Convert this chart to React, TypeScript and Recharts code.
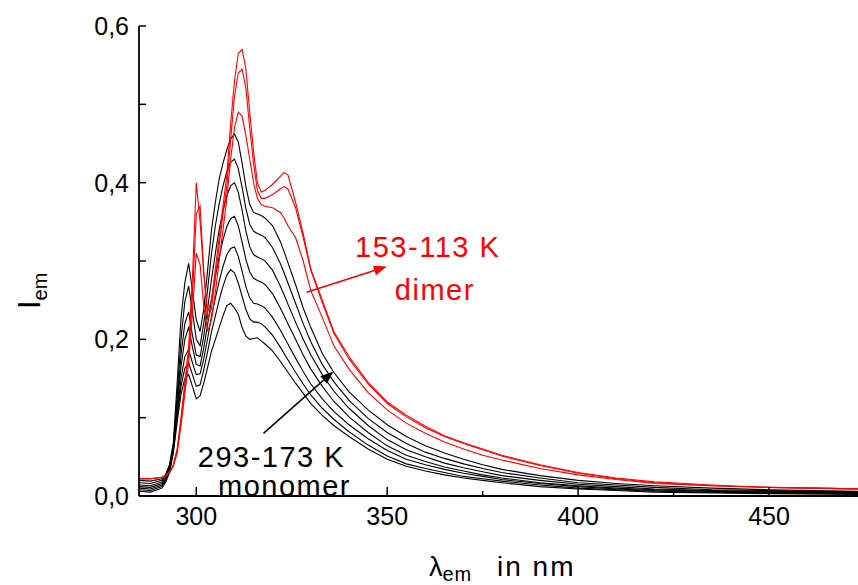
import { LineChart, Line, XAxis, YAxis, ReferenceLine, ReferenceDot } from 'recharts';

// emission wavelength grid (nm)
const WL = [
  285, 288, 291, 292, 293, 294, 295, 296, 297, 298,
  299, 300, 301, 302, 303, 304, 305, 306, 307, 308,
  309, 310, 311, 312, 313, 314, 315, 316, 317, 318,
  320, 322, 323, 324, 326, 328, 330, 333, 336, 340,
  345, 350, 355, 360, 365, 370, 375, 380, 390, 400, 410, 420, 435, 450, 475,
];

// monomer, 293 K .. 173 K (black)
const B293 = [
  0.006, 0.005, 0.010, 0.018, 0.030, 0.055, 0.095, 0.130, 0.150, 0.155,
  0.140, 0.124, 0.128, 0.145, 0.165, 0.185, 0.200, 0.215, 0.230, 0.243,
  0.246, 0.240, 0.232, 0.215, 0.204, 0.200, 0.201, 0.202, 0.198, 0.194,
  0.185, 0.172, 0.165, 0.158, 0.144, 0.131, 0.118, 0.103, 0.090, 0.076,
  0.060, 0.047, 0.038, 0.032, 0.027, 0.023, 0.020, 0.017, 0.012, 0.009, 0.007, 0.005, 0.004, 0.003, 0.002,
];
const B273 = [
  0.008, 0.007, 0.012, 0.020, 0.032, 0.058, 0.100, 0.140, 0.163, 0.170,
  0.155, 0.140, 0.142, 0.162, 0.185, 0.210, 0.230, 0.250, 0.268, 0.282,
  0.289, 0.285, 0.272, 0.255, 0.238, 0.226, 0.222, 0.222, 0.220, 0.216,
  0.205, 0.190, 0.182, 0.174, 0.158, 0.143, 0.129, 0.112, 0.098, 0.082,
  0.065, 0.051, 0.041, 0.035, 0.030, 0.025, 0.022, 0.019, 0.014, 0.010, 0.008, 0.006, 0.005, 0.004, 0.003,
];
const B253 = [
  0.010, 0.009, 0.014, 0.021, 0.033, 0.060, 0.105, 0.150, 0.178, 0.187,
  0.170, 0.155, 0.156, 0.176, 0.202, 0.230, 0.253, 0.274, 0.293, 0.308,
  0.316, 0.318, 0.306, 0.287, 0.267, 0.253, 0.246, 0.245, 0.243, 0.240,
  0.228, 0.212, 0.203, 0.194, 0.176, 0.159, 0.143, 0.124, 0.108, 0.091,
  0.073, 0.058, 0.047, 0.040, 0.034, 0.029, 0.025, 0.021, 0.016, 0.012, 0.009, 0.007, 0.006, 0.005, 0.004,
];
const B233 = [
  0.012, 0.011, 0.016, 0.022, 0.034, 0.062, 0.112, 0.165, 0.200, 0.215,
  0.190, 0.168, 0.166, 0.190, 0.220, 0.252, 0.280, 0.305, 0.327, 0.344,
  0.354, 0.357, 0.345, 0.324, 0.302, 0.286, 0.278, 0.275, 0.273, 0.270,
  0.258, 0.240, 0.230, 0.220, 0.200, 0.180, 0.162, 0.140, 0.121, 0.101,
  0.081, 0.064, 0.052, 0.044, 0.037, 0.032, 0.027, 0.023, 0.017, 0.013, 0.010, 0.008, 0.006, 0.005, 0.004,
];
const B213 = [
  0.014, 0.013, 0.018, 0.024, 0.036, 0.064, 0.120, 0.180, 0.220, 0.235,
  0.205, 0.180, 0.178, 0.205, 0.240, 0.277, 0.310, 0.340, 0.364, 0.383,
  0.396, 0.400, 0.388, 0.365, 0.338, 0.318, 0.308, 0.305, 0.303, 0.300,
  0.288, 0.268, 0.257, 0.245, 0.222, 0.200, 0.180, 0.155, 0.134, 0.112,
  0.090, 0.072, 0.059, 0.050, 0.042, 0.036, 0.031, 0.026, 0.020, 0.015, 0.012, 0.009, 0.007, 0.006, 0.005,
];
const B193 = [
  0.017, 0.016, 0.020, 0.026, 0.038, 0.066, 0.130, 0.200, 0.248, 0.268,
  0.235, 0.200, 0.192, 0.222, 0.265, 0.310, 0.345, 0.373, 0.396, 0.414,
  0.426, 0.430, 0.418, 0.394, 0.367, 0.347, 0.338, 0.335, 0.333, 0.330,
  0.317, 0.297, 0.285, 0.272, 0.246, 0.220, 0.197, 0.168, 0.146, 0.122,
  0.099, 0.081, 0.067, 0.056, 0.048, 0.041, 0.035, 0.030, 0.023, 0.017, 0.014, 0.011, 0.008, 0.007, 0.005,
];
const B173 = [
  0.020, 0.019, 0.022, 0.028, 0.040, 0.068, 0.145, 0.227, 0.272, 0.297,
  0.262, 0.225, 0.210, 0.240, 0.290, 0.340, 0.375, 0.405, 0.425, 0.442,
  0.456, 0.462, 0.452, 0.425, 0.395, 0.372, 0.362, 0.360, 0.358, 0.355,
  0.345, 0.325, 0.312, 0.298, 0.270, 0.240, 0.215, 0.182, 0.158, 0.133,
  0.110, 0.091, 0.076, 0.064, 0.055, 0.047, 0.040, 0.034, 0.026, 0.020, 0.016, 0.013, 0.010, 0.008, 0.006,
];

// dimer, 153 K .. 113 K (red)
const R153 = [
  0.022, 0.022, 0.024, 0.026, 0.030, 0.038, 0.055, 0.090, 0.130, 0.170,
  0.235, 0.310, 0.295, 0.240, 0.210, 0.225, 0.260, 0.300, 0.340, 0.380,
  0.430, 0.470, 0.490, 0.485, 0.460, 0.430, 0.400, 0.380, 0.372, 0.370,
  0.368, 0.362, 0.355, 0.345, 0.330, 0.300, 0.262, 0.228, 0.192, 0.162,
  0.132, 0.110, 0.093, 0.080, 0.069, 0.060, 0.052, 0.046, 0.035, 0.027, 0.021, 0.016, 0.013, 0.011, 0.009,
];
const R133 = [
  0.022, 0.022, 0.024, 0.026, 0.030, 0.040, 0.058, 0.095, 0.138, 0.180,
  0.255, 0.360, 0.370, 0.285, 0.225, 0.240, 0.280, 0.320, 0.360, 0.395,
  0.455, 0.510, 0.540, 0.545, 0.520, 0.470, 0.425, 0.390, 0.380, 0.380,
  0.385, 0.392, 0.395, 0.392, 0.368, 0.330, 0.288, 0.247, 0.208, 0.175,
  0.143, 0.118, 0.101, 0.087, 0.076, 0.067, 0.059, 0.051, 0.039, 0.029, 0.022, 0.017, 0.013, 0.011, 0.009,
];
const R113 = [
  0.022, 0.022, 0.024, 0.026, 0.030, 0.040, 0.060, 0.100, 0.145, 0.190,
  0.280, 0.400, 0.350, 0.280, 0.235, 0.250, 0.290, 0.330, 0.370, 0.410,
  0.475, 0.530, 0.565, 0.570, 0.545, 0.490, 0.440, 0.400, 0.388, 0.390,
  0.398, 0.408, 0.413, 0.410, 0.375, 0.335, 0.290, 0.250, 0.210, 0.178,
  0.145, 0.120, 0.103, 0.089, 0.077, 0.068, 0.060, 0.052, 0.040, 0.030, 0.023, 0.018, 0.014, 0.011, 0.009,
];

const X_TICKS = [300, 325, 350, 375, 400, 425, 450];
const Y_TICKS = [0, 0.1, 0.2, 0.3, 0.4, 0.5, 0.6];

const BLACK = { b293: B293, b273: B273, b253: B253, b233: B233, b213: B213, b193: B193, b173: B173 };
const RED = { r153: R153, r133: R133, r113: R113 };

const rows = WL.map((wl, i) => {
  const row: Record<string, number> = { wl };
  for (const [k, arr] of Object.entries({ ...BLACK, ...RED })) row[k] = arr[i];
  return row;
});

const FONT = '"Liberation Sans", Arial, sans-serif';

function XTick({ x, y, payload }: any) {
  const major = payload.value % 50 === 0;
  return (
    <g>
      <line x1={x} y1={y} x2={x} y2={y - (major ? 9 : 5)} stroke="#000" strokeWidth={1.5} />
      {major && (
        <text x={x} y={y + 29} textAnchor="middle" fontSize={25} fontFamily={FONT} fill="#000">
          {payload.value}
        </text>
      )}
    </g>
  );
}

function YTick({ x, y, payload }: any) {
  const major = Math.round(payload.value * 10) % 2 === 0;
  return (
    <g>
      <line x1={x} y1={y} x2={x + 7} y2={y} stroke="#000" strokeWidth={1.5} />
      {major && (
        <text x={x - 10} y={y + 9} textAnchor="end" fontSize={25} fontFamily={FONT} fill="#000">
          {payload.value.toFixed(1).replace('.', ',')}
        </text>
      )}
    </g>
  );
}

function arrowShape(color: string) {
  return (p: any) => {
    const { x1, y1, x2, y2 } = p;
    const a = Math.atan2(y2 - y1, x2 - x1);
    const L = 13, W = 5;
    const bx = x2 - L * Math.cos(a), by = y2 - L * Math.sin(a);
    const pts = [
      `${x2},${y2}`,
      `${bx + W * Math.sin(a)},${by - W * Math.cos(a)}`,
      `${bx - W * Math.sin(a)},${by + W * Math.cos(a)}`,
    ].join(' ');
    return (
      <g>
        <line x1={x1} y1={y1} x2={bx} y2={by} stroke={color} strokeWidth={1.5} />
        <polygon points={pts} fill={color} />
      </g>
    );
  };
}

function label(text: string, color: string) {
  return (p: any) => (
    <text x={p.cx} y={p.cy} fontSize={29} letterSpacing={1.5} fontFamily={FONT} fill={color}>
      {text}
    </text>
  );
}

export default function App() {
  return (
    <div style={{ position: 'absolute', left: 0, top: 0, width: 858, height: 585, background: '#fff', overflow: 'hidden' }}>
      <LineChart width={858} height={585} data={rows} margin={{ top: 26, right: 0, bottom: 29, left: 79 }}>
        <XAxis
          dataKey="wl"
          type="number"
          domain={[285, 473.3]}
          allowDataOverflow
          ticks={X_TICKS}
          interval={0}
          tickSize={0}
          tickMargin={0}
          tick={<XTick />}
          axisLine={{ stroke: '#000', strokeWidth: 1.8 }}
          height={60}
        />
        <YAxis
          type="number"
          domain={[0, 0.6]}
          ticks={Y_TICKS}
          interval={0}
          tickSize={0}
          tickMargin={0}
          tick={<YTick />}
          axisLine={{ stroke: '#000', strokeWidth: 1.8 }}
          width={60}
        />
        {Object.keys(BLACK).map((k) => (
          <Line key={k} dataKey={k} type="linear" stroke="#000" strokeWidth={1.1} dot={false} isAnimationActive={false} />
        ))}
        {Object.keys(RED).map((k) => (
          <Line key={k} dataKey={k} type="linear" stroke="#ff0000" strokeWidth={1.1} dot={false} isAnimationActive={false} />
        ))}
        <ReferenceLine segment={[{ x: 328.9, y: 0.26 }, { x: 349.9, y: 0.293 }]} shape={arrowShape('#ff0000')} ifOverflow="visible" />
        <ReferenceLine segment={[{ x: 317.6, y: 0.08 }, { x: 335.9, y: 0.159 }]} shape={arrowShape('#000')} ifOverflow="visible" />
        <ReferenceDot x={341.6} y={0.305} r={0} shape={label('153-113 K', '#ff0000')} ifOverflow="visible" />
        <ReferenceDot x={352.0} y={0.25} r={0} shape={label('dimer', '#ff0000')} ifOverflow="visible" />
        <ReferenceDot x={300.4} y={0.037} r={0} shape={label('293-173 K', '#000')} ifOverflow="visible" />
        <ReferenceDot x={305.7} y={0.0} r={0} shape={label('monomer', '#000')} ifOverflow="visible" />
      </LineChart>
      <svg width={858} height={585} style={{ position: 'absolute', left: 0, top: 0, pointerEvents: 'none' }}>
        <text transform="translate(40, 309) rotate(-90)" fontSize={31} fontFamily={FONT} fill="#000">
          I<tspan fontSize={20} dy={7}>em</tspan>
        </text>
        <text x={429} y={576} fontSize={27} fontFamily={FONT} fill="#000">
          λ<tspan fontSize={20} dy={5} letterSpacing={1}>em</tspan>
        </text>
        <text x={497} y={576} fontSize={28} letterSpacing={2} fontFamily={FONT} fill="#000">
          in nm
        </text>
      </svg>
    </div>
  );
}
